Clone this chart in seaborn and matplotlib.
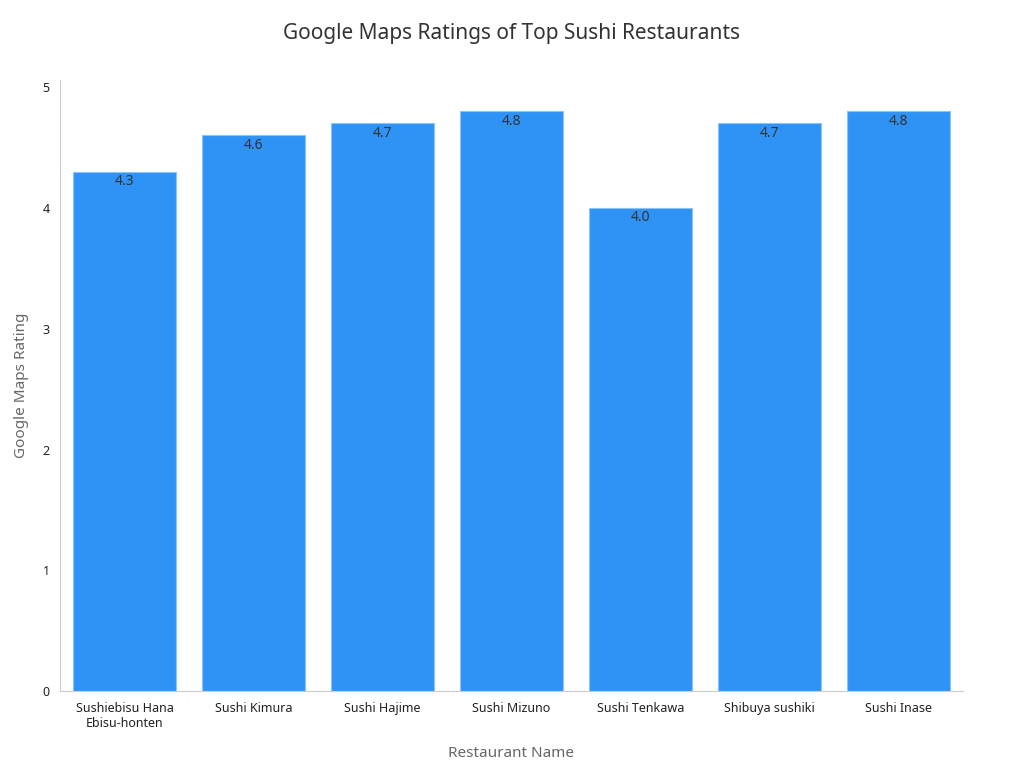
import matplotlib
matplotlib.use("Agg")
import matplotlib.pyplot as plt
import seaborn as sns
import pandas as pd

restaurants = ["Sushiebisu Hana\nEbisu-honten", "Sushi Kimura", "Sushi Hajime",
               "Sushi Mizuno", "Sushi Tenkawa", "Shibuya sushiki", "Sushi Inase"]
ratings = [4.3, 4.6, 4.7, 4.8, 4.0, 4.7, 4.8]

df = pd.DataFrame({"Restaurant": restaurants, "Rating": ratings})

sns.set_style("white")
plt.rcParams["font.family"] = ["Noto Sans", "DejaVu Sans"]

fig = plt.figure(figsize=(10.24, 7.68), dpi=100)
ax = fig.add_axes([0.0586, 0.100, 0.8818, 0.796])
sns.barplot(data=df, x="Restaurant", y="Rating", color="#2E93F5", saturation=1,
            width=0.8, edgecolor="#8CC4F8", linewidth=0.8, ax=ax)

for i, v in enumerate(ratings):
    ax.text(i, v - 0.02, f"{v:.1f}", ha="center", va="top", fontsize=10, color="#333333")

ax.set_xlim(-0.5, 6.5)
ax.set_ylim(0, 5.06)
ax.set_yticks([0, 1, 2, 3, 4, 5])
ax.tick_params(axis="both", labelsize=9, colors="#222222", length=4, color="#999999")
ax.tick_params(axis="x", length=4)
for s in ["top", "right"]:
    ax.spines[s].set_visible(False)
for s in ["left", "bottom"]:
    ax.spines[s].set_color("#cccccc")
ax.set_xlabel("Restaurant Name", fontsize=11, color="#666666", labelpad=12)
ax.set_ylabel("Google Maps Rating", fontsize=11, color="#666666", labelpad=10)
fig.suptitle("Google Maps Ratings of Top Sushi Restaurants", fontsize=15,
             color="#333333", y=0.97)

fig.savefig("out.png", dpi=100)
